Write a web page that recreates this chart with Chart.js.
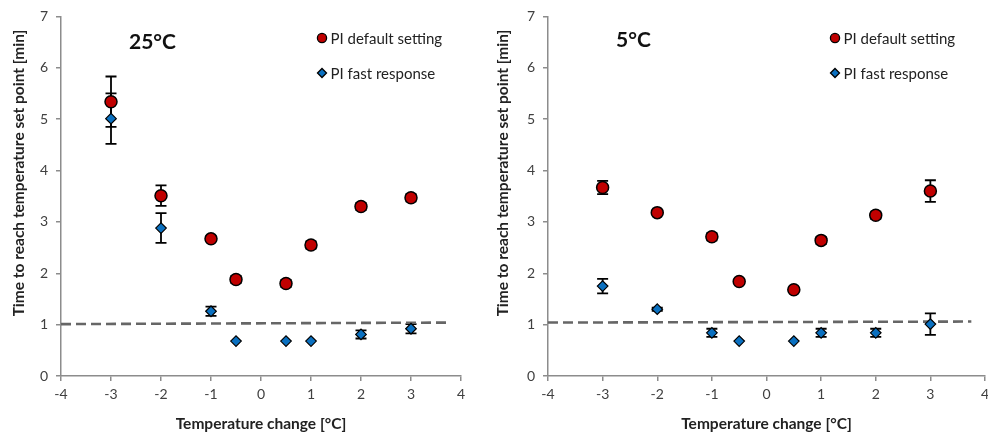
<!DOCTYPE html>
<html>
<head>
<meta charset="utf-8">
<script src="https://cdn.jsdelivr.net/npm/chart.js@4.4.1/dist/chart.umd.min.js"></script>
<style>
  html, body { margin: 0; padding: 0; background: #fff; }
  #wrap { position: relative; width: 988px; height: 437px; overflow: hidden; }
  #chart25 { position: absolute; left: 0; top: 0; }
  #chart5 { position: absolute; left: 494px; top: 0; }
</style>
</head>
<body>
<div id="wrap">
  <canvas id="chart25" width="494" height="437"></canvas>
  <canvas id="chart5" width="510" height="437"></canvas>
</div>
<script>
// temperature steps [°C]
const tempChange = [-3, -2, -1, -0.5, 0.5, 1, 2, 3];

// 25 °C ambient
const default25 = [5.34, 3.51, 2.67, 1.88, 1.80, 2.55, 3.30, 3.47];
const default25Err = [0.49, 0.20, 0.05, 0.07, 0.07, 0.07, 0.07, 0.07];
const fast25 = [5.01, 2.88, 1.26, 0.68, 0.68, 0.68, 0.81, 0.92];
const fast25Err = [0.49, 0.29, 0.09, 0, 0, 0, 0.08, 0.09];

// 5 °C ambient
const default5 = [3.67, 3.18, 2.71, 1.84, 1.68, 2.64, 3.13, 3.60];
const default5Err = [0.13, 0.03, 0.07, 0.03, 0.03, 0.07, 0.07, 0.21];
const fast5 = [1.75, 1.30, 0.84, 0.68, 0.68, 0.84, 0.84, 1.01];
const fast5Err = [0.14, 0.03, 0.08, 0, 0, 0.08, 0.08, 0.21];

// dashed 1-minute reference line
const refLineX = [-4, 3.75];
const refLine25 = [1.01, 1.04];
const refLine5 = [1.04, 1.06];

const xTicks = [-4, -3, -2, -1, 0, 1, 2, 3, 4];
const yTicks = [0, 1, 2, 3, 4, 5, 6, 7];

const FONT = "Lato, 'Open Sans', sans-serif";
const AXIS_GRAY = "#8c8c8c";
const RED = "#c00000";
const BLUE = "#0a70c0";
const Y_TITLE = "Time to reach temperature set point [min]";

function toPoints(xs, ys) {
  return xs.map((x, i) => ({ x, y: ys[i] }));
}

// ============================
// Error bars (drawn under the markers)
// ============================
const errorBarPlugin = {
  id: "errorBars",
  beforeDatasetsDraw(chart) {
    const { ctx, scales: { y } } = chart;
    chart.data.datasets.forEach((ds, i) => {
      if (!ds.errors) return;
      const meta = chart.getDatasetMeta(i);
      ctx.save();
      ctx.strokeStyle = "#000";
      ctx.lineWidth = 1.8;
      meta.data.forEach((pt, j) => {
        const err = ds.errors[j];
        if (!err) return;
        const top = y.getPixelForValue(ds.data[j].y + err);
        const bottom = y.getPixelForValue(ds.data[j].y - err);
        ctx.beginPath();
        ctx.moveTo(pt.x, top);
        ctx.lineTo(pt.x, bottom);
        ctx.moveTo(pt.x - 5.5, top);
        ctx.lineTo(pt.x + 5.5, top);
        ctx.moveTo(pt.x - 5.5, bottom);
        ctx.lineTo(pt.x + 5.5, bottom);
        ctx.stroke();
      });
      ctx.restore();
    });
  }
};

// ============================
// Y title, panel label + in-plot legend
// ============================
const panelPlugin = {
  id: "panel",
  afterDraw(chart, args, opts) {
    const { ctx, chartArea } = chart;
    ctx.save();

    // vertical axis title (sits a little above the axis middle)
    ctx.save();
    ctx.translate(opts.yTitleX, 173);
    ctx.rotate(-Math.PI / 2);
    ctx.font = "bold 15.5px " + FONT;
    ctx.fillStyle = "#222";
    ctx.textAlign = "center";
    ctx.textBaseline = "middle";
    ctx.fillText(Y_TITLE, 0, 0);
    ctx.restore();

    ctx.font = "bold 21px " + FONT;
    ctx.fillStyle = "#111";
    ctx.textAlign = "left";
    ctx.textBaseline = "middle";
    ctx.fillText(opts.label, chartArea.left + 68, opts.labelY);

    ctx.font = "15px " + FONT;
    let row = 0;
    chart.data.datasets.forEach(ds => {
      if (!ds.errors) return;
      const y = 38 + row * 35;
      const x = opts.legendX;
      ctx.beginPath();
      if (ds.pointStyle === "circle") {
        ctx.arc(x, y, 4.6, 0, Math.PI * 2);
      } else {
        ctx.moveTo(x - 4.5, y);
        ctx.lineTo(x, y - 4.5);
        ctx.lineTo(x + 4.5, y);
        ctx.lineTo(x, y + 4.5);
        ctx.closePath();
      }
      ctx.fillStyle = ds.backgroundColor;
      ctx.fill();
      ctx.lineWidth = 1.3;
      ctx.strokeStyle = "#000";
      ctx.stroke();
      ctx.fillStyle = "#222";
      ctx.fillText(ds.label, x + 8.5, y + 1);
      row++;
    });
    ctx.restore();
  }
};

function makeChart(id, cfg) {
  const ctx = document.getElementById(id).getContext("2d");
  return new Chart(ctx, {
    type: "scatter",
    data: {
      datasets: [
        {
          label: "PI default setting",
          data: toPoints(tempChange, cfg.def),
          errors: cfg.defErr,
          pointStyle: "circle",
          pointRadius: 6,
          pointHoverRadius: 6,
          backgroundColor: RED,
          borderColor: "#000",
          borderWidth: 1.5
        },
        {
          label: "PI fast response",
          data: toPoints(tempChange, cfg.fast),
          errors: cfg.fastErr,
          pointStyle: "rectRot",
          pointRadius: 5.3,
          pointHoverRadius: 5.3,
          backgroundColor: BLUE,
          borderColor: "#000",
          borderWidth: 1.2
        },
        {
          type: "line",
          label: "set point",
          data: toPoints(refLineX, cfg.ref),
          borderColor: "#666",
          borderWidth: 2.6,
          borderDash: [10, 5],
          pointRadius: 0,
          fill: false,
          order: 2
        }
      ]
    },
    options: {
      responsive: false,
      animation: false,
      layout: { padding: { top: 14, right: cfg.padRight, bottom: 0, left: 0 } },
      plugins: {
        legend: { display: false },
        tooltip: { enabled: false },
        panel: { label: cfg.label, labelY: cfg.labelY, legendX: cfg.legendX, yTitleX: cfg.yTitleX }
      },
      scales: {
        x: {
          type: "linear",
          min: -4,
          max: 4,
          afterBuildTicks: scale => { scale.ticks = xTicks.map(v => ({ value: v })); },
          afterFit: scale => { scale.height = 61; },
          ticks: { color: "#404040", font: { family: FONT, size: 14 }, padding: 5 },
          grid: { drawOnChartArea: false, tickLength: 5, color: AXIS_GRAY, lineWidth: 1.5 },
          border: { color: AXIS_GRAY, width: 1.5 },
          title: {
            display: true,
            text: "Temperature change [°C]",
            color: "#222",
            font: { family: FONT, size: 15.5, weight: "bold" },
            padding: { top: 0, bottom: 4 }
          }
        },
        y: {
          min: 0,
          max: 7,
          afterBuildTicks: scale => { scale.ticks = yTicks.map(v => ({ value: v })); },
          afterFit: scale => { scale.width = cfg.yWidth; },
          ticks: { color: "#404040", font: { family: FONT, size: 14 }, padding: 8 },
          grid: { drawOnChartArea: false, tickLength: 5, color: AXIS_GRAY, lineWidth: 1.5 },
          border: { color: AXIS_GRAY, width: 1.5 }
        }
      }
    },
    plugins: [errorBarPlugin, panelPlugin]
  });
}

makeChart("chart25", {
  def: default25, defErr: default25Err,
  fast: fast25, fastErr: fast25Err,
  ref: refLine25,
  label: "25°C", labelY: 42,
  legendX: 322, yTitleX: 19,
  yWidth: 61, padRight: 33
});

makeChart("chart5", {
  def: default5, defErr: default5Err,
  fast: fast5, fastErr: fast5Err,
  ref: refLine5,
  label: "5°C", labelY: 40,
  legendX: 341, yTitleX: 9,
  yWidth: 54, padRight: 19
});
</script>
</body>
</html>
